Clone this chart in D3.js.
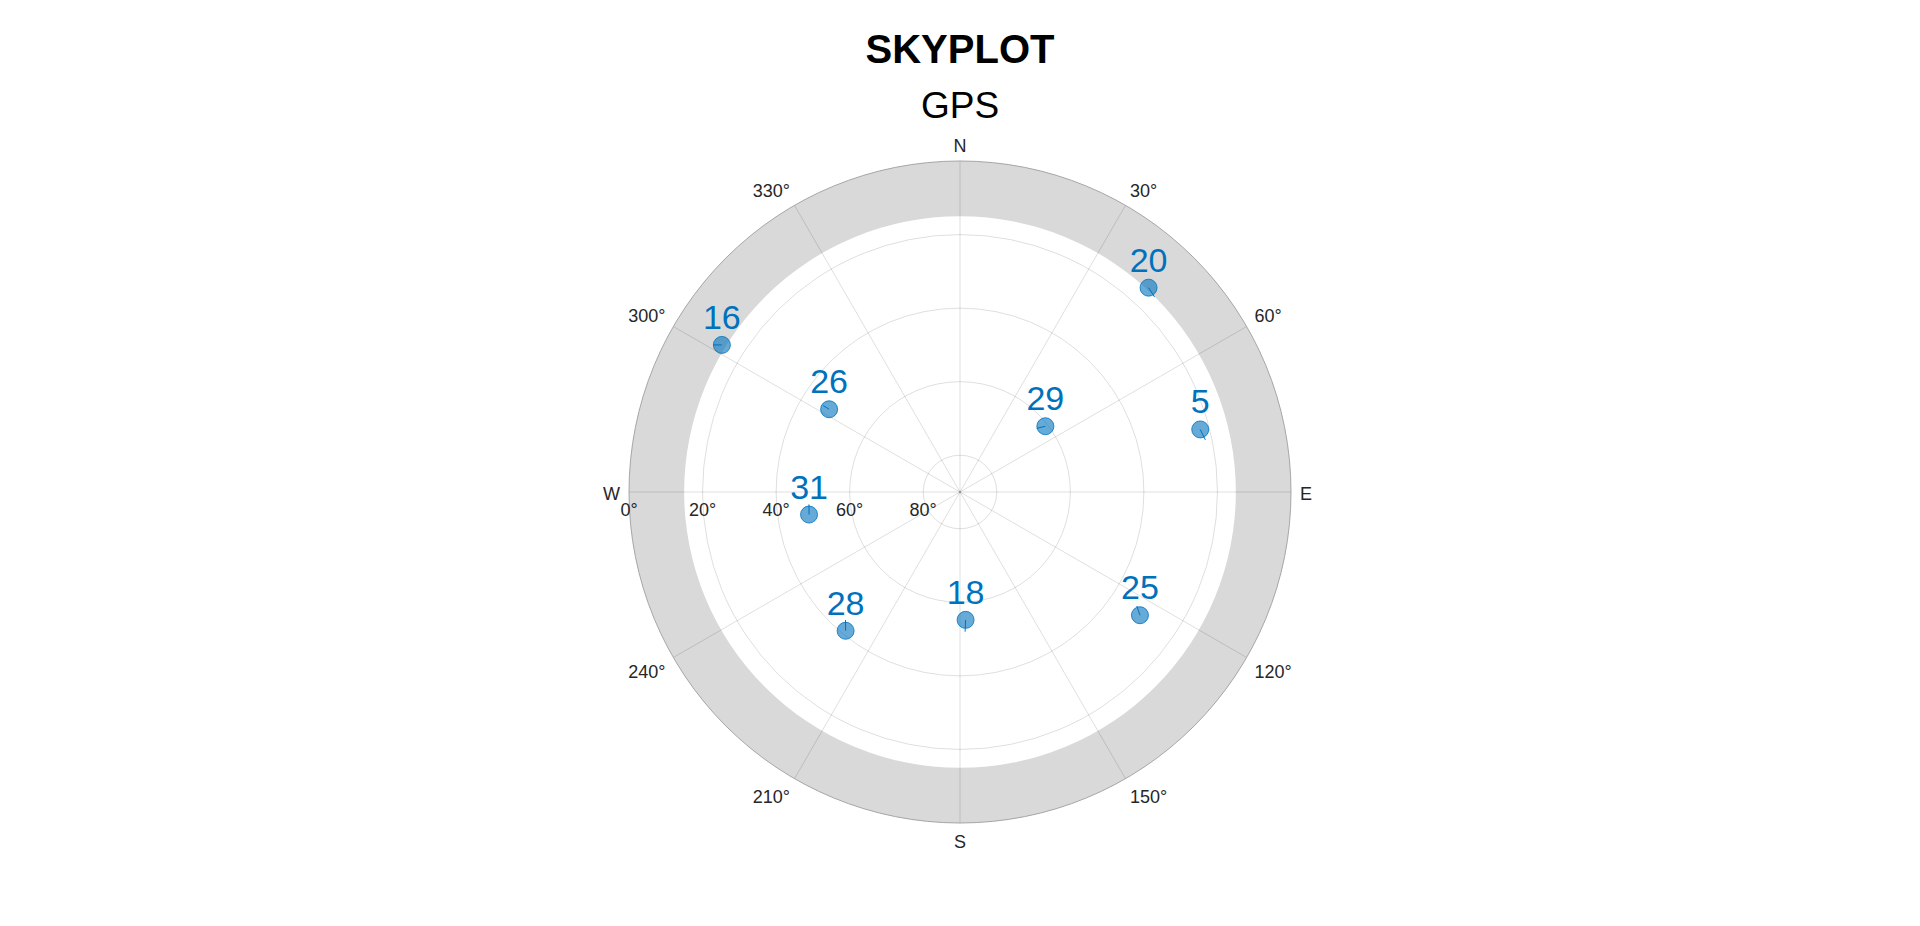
<!DOCTYPE html>
<html>
<head>
<meta charset="utf-8">
<script src="https://cdn.jsdelivr.net/npm/d3@7"></script>
<style>
  body { margin: 0; background: #fff; }
  text { font-family: "Liberation Sans", Arial, sans-serif; }
</style>
</head>
<body>
<script>
// satellites: PRN, azimuth (deg from north, clockwise), elevation (deg)
const satIds = [16, 26, 20, 29, 5, 31, 28, 18, 25];
const satAz = [301.7, 302.3, 42.7, 52.4, 75.4, 261.5, 219.5, 177.5, 124.4];
const satEl = [13.9, 47.9, 14.4, 60.7, 22.5, 48.5, 41.1, 55.2, 30.7];
// other end of the short track drawn from each marker
const trackAz = [300.8, 302.3, 44.9, 50.3, 78.0, 265.3, 221.8, 177.9, 122.8];
const trackEl = [11.9, 46.0, 15.1, 62.9, 21.8, 48.8, 43.3, 52.0, 32.8];

const ringEl = [0, 20, 40, 60, 80];
const ringLabels = ["0°", "20°", "40°", "60°", "80°"];
const spokeAz = [0, 30, 60, 90, 120, 150, 180, 210, 240, 270, 300, 330];
const azLabels = ["N", "30°", "60°", "E", "120°", "150°", "S", "210°", "240°", "W", "300°", "330°"];
const maskEl = 15;

const W = 1920, H = 926;
const cx = 960, cy = 492, R = 331;

const svg = d3.select("body").append("svg")
    .attr("width", W)
    .attr("height", H);

const r = d3.scaleLinear().domain([90, 0]).range([0, R]);
const ang = d3.scaleLinear().domain([0, 360]).range([0, 2 * Math.PI]);

const px = (az, el) => cx + r(el) * Math.sin(ang(az));
const py = (az, el) => cy - r(el) * Math.cos(ang(az));

const g = svg.append("g");

// elevation mask band
const band = d3.arc()
    .innerRadius(r(maskEl))
    .outerRadius(r(0))
    .startAngle(0)
    .endAngle(2 * Math.PI);
g.append("path")
    .attr("d", band())
    .attr("transform", `translate(${cx},${cy})`)
    .attr("fill", "#d9d9d9");

// spokes
g.selectAll("line.spoke")
    .data(spokeAz)
    .enter()
    .append("line")
        .attr("class", "spoke")
        .attr("x1", cx).attr("y1", cy)
        .attr("x2", d => px(d, 0))
        .attr("y2", d => py(d, 0))
        .attr("stroke", "#000")
        .attr("stroke-opacity", 0.13)
        .attr("stroke-width", 1);

// elevation rings
g.selectAll("circle.ring")
    .data(ringEl)
    .enter()
    .append("circle")
        .attr("class", "ring")
        .attr("cx", cx).attr("cy", cy)
        .attr("r", d => r(d))
        .attr("fill", "none")
        .attr("stroke", d => d === 0 ? "#a6a6a6" : "#000")
        .attr("stroke-opacity", d => d === 0 ? 1 : 0.13)
        .attr("stroke-width", 1);

g.append("circle")
    .attr("cx", cx).attr("cy", cy).attr("r", 1.2)
    .attr("fill", "#999");

// ring labels along the west spoke
g.selectAll("text.rlab")
    .data(ringEl)
    .enter()
    .append("text")
        .attr("class", "rlab")
        .attr("x", (d) => px(270, d))
        .attr("y", cy + 24)
        .attr("text-anchor", "middle")
        .attr("font-size", 18)
        .attr("fill", "#262626")
        .text((d, i) => ringLabels[i]);

// azimuth labels, pushed off the rim by a gap plus half the text box
const gap = 9, halfH = 8.3, nudge = 2;
g.selectAll("text.alab")
    .data(spokeAz)
    .enter()
    .append("text")
        .attr("class", "alab")
        .attr("text-anchor", "middle")
        .attr("dominant-baseline", "central")
        .attr("font-size", 18)
        .attr("fill", "#262626")
        .text((d, i) => azLabels[i])
        .each(function(d) {
            const w = this.getBBox().width;
            const s = Math.sin(ang(d)), c = Math.cos(ang(d));
            const sx = Math.abs(s) < 1e-6 ? 0 : Math.sign(s);
            const sy = Math.abs(c) < 1e-6 ? 0 : Math.sign(c);
            d3.select(this)
                .attr("x", px(d, 0) + sx * (gap * Math.abs(s) + w / 2))
                .attr("y", py(d, 0) - sy * (gap * Math.abs(c) + halfH) + nudge);
        });

// satellites
const idx = d3.range(satIds.length);

g.selectAll("circle.sat")
    .data(idx)
    .enter()
    .append("circle")
        .attr("class", "sat")
        .attr("cx", i => px(satAz[i], satEl[i]))
        .attr("cy", i => py(satAz[i], satEl[i]))
        .attr("r", 8.5)
        .attr("fill", "#0072BD")
        .attr("fill-opacity", 0.6)
        .attr("stroke", "#0072BD")
        .attr("stroke-opacity", 0.8)
        .attr("stroke-width", 1);

g.selectAll("line.track")
    .data(idx)
    .enter()
    .append("line")
        .attr("class", "track")
        .attr("x1", i => px(satAz[i], satEl[i]))
        .attr("y1", i => py(satAz[i], satEl[i]))
        .attr("x2", i => px(trackAz[i], trackEl[i]))
        .attr("y2", i => py(trackAz[i], trackEl[i]))
        .attr("stroke", "#0072BD")
        .attr("stroke-width", 1);

g.selectAll("text.sid")
    .data(idx)
    .enter()
    .append("text")
        .attr("class", "sid")
        .attr("x", i => px(satAz[i], satEl[i]))
        .attr("y", i => py(satAz[i], satEl[i]) - 16)
        .attr("text-anchor", "middle")
        .attr("font-size", 34)
        .attr("fill", "#0072BD")
        .text(i => satIds[i]);

// titles
svg.append("text")
    .attr("x", cx).attr("y", 63)
    .attr("text-anchor", "middle")
    .attr("font-size", 40)
    .attr("font-weight", "bold")
    .attr("fill", "#000")
    .text("SKYPLOT");

svg.append("text")
    .attr("x", cx).attr("y", 118)
    .attr("text-anchor", "middle")
    .attr("font-size", 37)
    .attr("fill", "#000")
    .text("GPS");
</script>
</body>
</html>
